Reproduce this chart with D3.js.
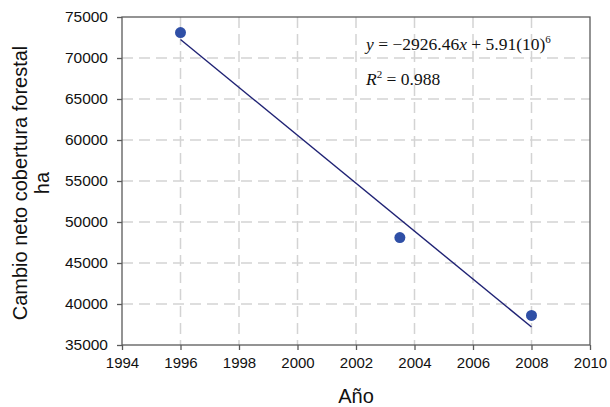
<!DOCTYPE html>
<html>
<head>
<meta charset="utf-8">
<script src="https://cdn.jsdelivr.net/npm/d3@7"></script>
<style>
  body { margin: 0; background: #fff; }
  svg text { font-family: "Liberation Sans", Arial, sans-serif; }
</style>
</head>
<body>
<div id="chart"></div>
<script>
// data
const years = [1996, 2003.5, 2008];
const coverage = [73100, 48100, 38600];
const xTicks = [1994, 1996, 1998, 2000, 2002, 2004, 2006, 2008, 2010];
const yTicks = [35000, 40000, 45000, 50000, 55000, 60000, 65000, 70000, 75000];

const width = 610;
const height = 407;
const margin = { top: 17, right: 20, bottom: 62, left: 122 };

const svg = d3.select("#chart")
  .append("svg")
  .attr("width", width)
  .attr("height", height);

const x = d3.scaleLinear()
  .domain([1994, 2010])
  .range([margin.left, width - margin.right]);

const y = d3.scaleLinear()
  .domain([35000, 75000])
  .range([height - margin.bottom, margin.top]);

// dashed grid
svg.append("g")
  .selectAll("line")
  .data(xTicks.slice(1, -1))
  .enter()
  .append("line")
  .attr("x1", d => x(d))
  .attr("x2", d => x(d))
  .attr("y1", y(75000))
  .attr("y2", y(35000))
  .attr("stroke", "#d3d3d3")
  .attr("stroke-width", 1.5)
  .attr("stroke-dasharray", "11,6");

svg.append("g")
  .selectAll("line")
  .data(yTicks.slice(1, -1))
  .enter()
  .append("line")
  .attr("x1", x(1994))
  .attr("x2", x(2010))
  .attr("y1", d => y(d))
  .attr("y2", d => y(d))
  .attr("stroke", "#d3d3d3")
  .attr("stroke-width", 1.5)
  .attr("stroke-dasharray", "11,6");

// frame
svg.append("rect")
  .attr("x", x(1994))
  .attr("y", y(75000))
  .attr("width", x(2010) - x(1994))
  .attr("height", y(35000) - y(75000))
  .attr("fill", "none")
  .attr("stroke", "#5a5a5a")
  .attr("stroke-width", 1.3);

const xAxis = d3.axisBottom(x)
  .tickValues(xTicks)
  .tickFormat(d3.format("d"))
  .tickSizeInner(5)
  .tickSizeOuter(0);

const yAxis = d3.axisLeft(y)
  .tickValues(yTicks)
  .tickFormat(d3.format("d"))
  .tickSizeInner(5)
  .tickSizeOuter(0);

const gx = svg.append("g")
  .attr("transform", `translate(0,${y(35000)})`)
  .call(xAxis);
gx.select(".domain").remove();
gx.selectAll("line").attr("stroke", "#5a5a5a").attr("stroke-width", 1.3);
gx.selectAll("text")
  .attr("dy", "1.0em")
  .style("font-size", "15px")
  .style("font-family", "Liberation Sans, Arial, sans-serif")
  .attr("fill", "#111");

const gy = svg.append("g")
  .attr("transform", `translate(${x(1994)},0)`)
  .call(yAxis);
gy.select(".domain").remove();
gy.selectAll("line").attr("stroke", "#5a5a5a").attr("stroke-width", 1.3);
gy.selectAll("text")
  .attr("x", -14)
  .style("font-size", "15.5px")
  .style("font-family", "Liberation Sans, Arial, sans-serif")
  .attr("fill", "#111");

// least squares trend line
const mx = d3.mean(years);
const my = d3.mean(coverage);
const sxy = d3.sum(years, (d, i) => (d - mx) * (coverage[i] - my));
const sxx = d3.sum(years, d => (d - mx) * (d - mx));
const slope = sxy / sxx;
const fit = xv => my + slope * (xv - mx);
const fitEnds = [d3.min(years), d3.max(years)];

svg.append("path")
  .datum(fitEnds)
  .attr("d", d3.line().x(d => x(d)).y(d => y(fit(d))))
  .attr("fill", "none")
  .attr("stroke", "#1f2274")
  .attr("stroke-width", 1.4);

svg.append("g")
  .selectAll("circle")
  .data(years)
  .enter()
  .append("circle")
  .attr("cx", d => x(d))
  .attr("cy", (d, i) => y(coverage[i]))
  .attr("r", 5.5)
  .attr("fill", "#2f4fa6");

// equation
const eq = svg.append("text")
  .attr("x", 366)
  .attr("y", 50)
  .style("font-family", "Liberation Serif, Times New Roman, serif")
  .style("font-size", "17.5px")
  .attr("fill", "#111");
eq.append("tspan").style("font-style", "italic").text("y");
eq.append("tspan").text(" = \u22122926.46");
eq.append("tspan").style("font-style", "italic").text("x");
eq.append("tspan").text(" + 5.91(10)");
eq.append("tspan").attr("dy", -7).style("font-size", "11px").text("6");

const r2 = svg.append("text")
  .attr("x", 366)
  .attr("y", 85)
  .style("font-family", "Liberation Serif, Times New Roman, serif")
  .style("font-size", "17.5px")
  .attr("fill", "#111");
r2.append("tspan").style("font-style", "italic").text("R");
r2.append("tspan").attr("dy", -7).style("font-size", "11px").text("2");
r2.append("tspan").attr("dy", 7).text(" = 0.988");

// axis titles
svg.append("text")
  .attr("x", (x(1994) + x(2010)) / 2)
  .attr("y", 403)
  .attr("text-anchor", "middle")
  .style("font-size", "20px")
  .attr("fill", "#111")
  .text("Año");

const yTitle = svg.append("text")
  .attr("transform", `translate(27,${(y(35000) + y(75000)) / 2 + 2}) rotate(-90)`)
  .attr("text-anchor", "middle")
  .style("font-size", "20px")
  .attr("fill", "#111");
yTitle.append("tspan").attr("x", 0).attr("dy", 0).text("Cambio neto cobertura forestal");
yTitle.append("tspan").attr("x", 0).attr("dy", 22).text("ha");
</script>
</body>
</html>
